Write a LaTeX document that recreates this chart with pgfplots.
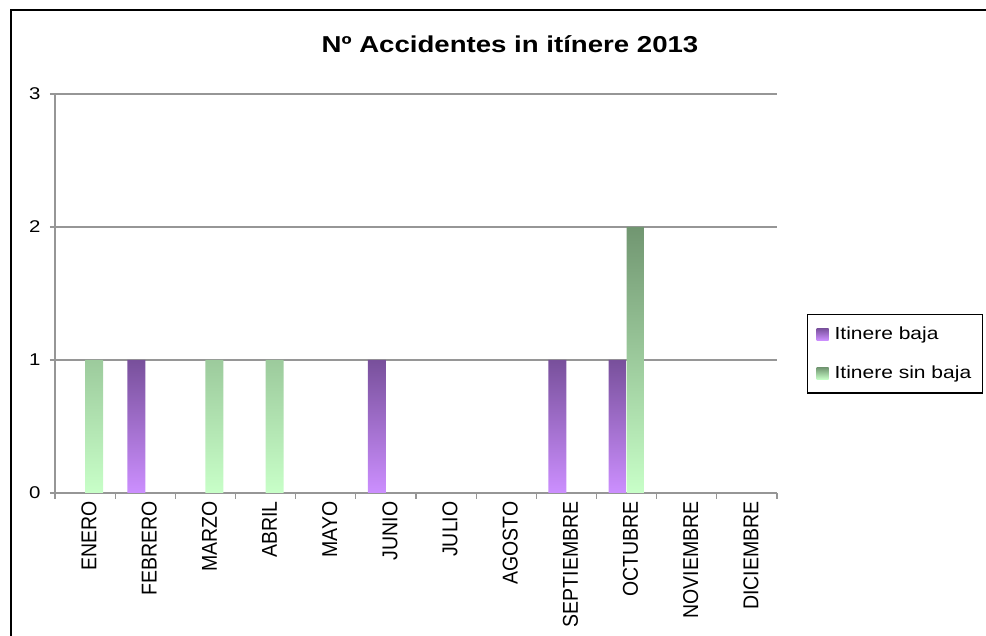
\documentclass[border=0pt]{standalone}
\usepackage{fontspec}
\setmainfont{Liberation Sans}[FakeStretch=1.2]
\newfontfamily\plainfont{Liberation Sans}
\usepackage{pgfplots}
\pgfplotsset{compat=1.18}

\definecolor{purptop}{RGB}{120,80,155}
\definecolor{purpbot}{RGB}{204,143,255}
\definecolor{greentop}{RGB}{113,150,113}
\definecolor{greenbot}{RGB}{200,255,200}
\definecolor{axgray}{RGB}{150,150,150}

% month labels are a little wider across than the plain font
\newcommand\lab[1]{\scalebox{1}[1.1]{#1}}

\begin{document}
\begin{tikzpicture}
\useasboundingbox (0,0) rectangle (986pt,636pt);
% frame of the chart (only top and left are visible)
\draw[line width=2pt] (11pt,0) -- (11pt,626pt) -- (986pt,626pt);
\node[anchor=base, font=\fontsize{23}{27}\selectfont\bfseries] at (510pt,583pt) {Nº Accidentes in itínere 2013};

\begin{axis}[
    at={(55pt,143pt)}, anchor=south west,
    scale only axis,
    width=722pt, height=399pt,
    xmin=-0.5, xmax=11.5,
    ymin=0, ymax=3,
    ybar=0pt, bar width=18pt,
    axis x line*=bottom, axis y line*=left,
    axis line style={-, draw=axgray, line width=1.5pt},
    ymajorgrids,
    grid style={draw=axgray, line width=1.5pt},
    ytick={0,1,2,3},
    xtick={0,...,11},
    xticklabels={\lab{ENERO},\lab{FEBRERO},\lab{MARZO},\lab{ABRIL},\lab{MAYO},\lab{JUNIO},\lab{JULIO},\lab{AGOSTO},\lab{SEPTIEMBRE},\lab{OCTUBRE},\lab{NOVIEMBRE},\lab{DICIEMBRE}},
    minor xtick={-0.5,0.5,...,11.5},
    major x tick style={draw=none},
    tick align=outside,
    major tick length=5pt,
    minor tick length=6pt,
    tick style={draw=axgray, line width=1.2pt},
    /pgf/number format/assume math mode=true,
    yticklabel style={font=\fontsize{17}{20}\selectfont, xshift=-6pt},
    xticklabel style={rotate=90, anchor=east, yshift=-4pt,
        font=\plainfont\fontsize{19.5}{22}\selectfont},
    legend cell align=left,
    legend style={
        at={(axis description cs:1.0416,0.4486)}, anchor=north west,
        draw=black, line width=1.2pt,
        font=\fontsize{17.5}{20}\selectfont,
        inner xsep=9pt, inner ysep=10.5pt,
        row sep=21pt,
        /tikz/every odd column/.append style={column sep=4pt},
    },
]
\addplot[draw=none, top color=purptop, bottom color=purpbot,
    legend image code/.code={\shade[top color=purptop,bottom color=purpbot] (0pt,-6pt) rectangle (12pt,6pt);}]
    coordinates {(1,1) (5,1) (8,1) (9,1)};
\addplot[draw=none, top color=greentop, bottom color=greenbot,
    legend image code/.code={\shade[top color=greentop,bottom color=greenbot] (0pt,-6pt) rectangle (12pt,6pt);}]
    coordinates {(0,1) (2,1) (3,1) (9,2)};
\legend{Itinere baja, Itinere sin baja}
\end{axis}
\end{tikzpicture}
\end{document}
